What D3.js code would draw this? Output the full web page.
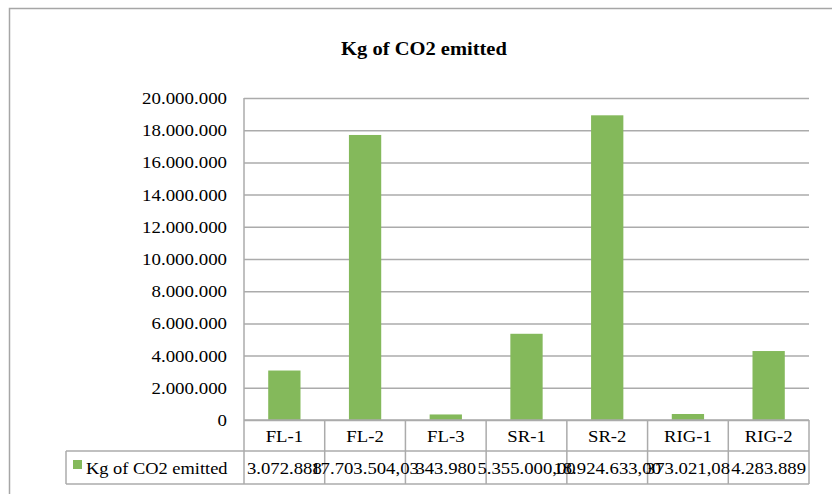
<!DOCTYPE html>
<html><head><meta charset="utf-8">
<script src="https://cdn.jsdelivr.net/npm/d3@7"></script>
<style>
html,body{margin:0;padding:0;background:#fff;}
svg text{font-family:"Liberation Serif","Times New Roman",serif;fill:#000;}
</style></head>
<body><svg id="c" width="832" height="494"></svg>
<script>
const categories = ["FL-1","FL-2","FL-3","SR-1","SR-2","RIG-1","RIG-2"];
const values = [3072888, 17703504.03, 343980, 5355000.00, 18924633.00, 373021.08, 4283889];
const valueLabels = ["3.072.888","17.703.504,03","343.980","5.355.000,00","18.924.633,00","373.021,08","4.283.889"];
const yTicks = [0,2000000,4000000,6000000,8000000,10000000,12000000,14000000,16000000,18000000,20000000];
const tickLabels = ["0","2.000.000","4.000.000","6.000.000","8.000.000","10.000.000","12.000.000","14.000.000","16.000.000","18.000.000","20.000.000"];
const seriesName = "Kg of CO2 emitted";
const title = "Kg of CO2 emitted";

const gridCol = "#ababab", barCol = "#84b95b";
const svg = d3.select("#c");
const L = 244, R = 809, T = 98, B = 420;
const row1B = 451, row2B = 484, legL = 66;

function stretch(sx){
  return sel => sel.each(function(){
    const t = d3.select(this);
    const x = +t.attr("x") || 0, y = +t.attr("y") || 0;
    t.attr("x",0).attr("y",0).attr("transform",`translate(${x},${y}) scale(${sx},1)`);
  });
}

// outer frame
svg.append("path").attr("d","M9.5,494 V8.5 H832").attr("fill","none").attr("stroke","#a6a6a6").attr("stroke-width",1.5);

// title
svg.append("text").attr("x",424).attr("y",55).attr("text-anchor","middle")
  .style("font-size","19px").style("font-weight","bold").text(title).call(stretch(1.08));

const x = d3.scaleBand().domain(categories).range([L,R]).paddingInner(0.6).paddingOuter(0.3);
const y = d3.scaleLinear().domain([0,20000000]).range([B,T]);

// gridlines + tick labels via axis
const ga = svg.append("g").attr("transform",`translate(${L},0)`)
  .call(d3.axisLeft(y).tickValues(yTicks).tickSize(-(R-L)).tickFormat((d,i)=>tickLabels[i]));
ga.select(".domain").remove();
ga.selectAll(".tick line").attr("stroke",gridCol).attr("stroke-width",1.5);
ga.selectAll(".tick text").attr("x",-17).attr("y",5.5).attr("dy",null)
  .style("font-size","16px").attr("text-anchor","end").call(stretch(1.18));

// bars
svg.append("g").selectAll("rect").data(values).join("rect")
  .attr("x",(d,i)=>x(categories[i])).attr("width",x.bandwidth())
  .attr("y",d=>y(d)).attr("height",d=>B-y(d)).attr("fill",barCol);

// left axis line
svg.append("line").attr("x1",L).attr("x2",L).attr("y1",T).attr("y2",row2B).attr("stroke",gridCol).attr("stroke-width",1.5);

// data table
const step = x.step();
const tg = svg.append("g");
tg.append("line").attr("x1",L).attr("x2",R).attr("y1",B).attr("y2",B).attr("stroke",gridCol).attr("stroke-width",1.5);
tg.append("line").attr("x1",legL).attr("x2",R).attr("y1",row1B).attr("y2",row1B).attr("stroke",gridCol).attr("stroke-width",1.5);
tg.append("line").attr("x1",legL).attr("x2",R).attr("y1",row2B).attr("y2",row2B).attr("stroke",gridCol).attr("stroke-width",1.5);
tg.append("line").attr("x1",legL).attr("x2",legL).attr("y1",row1B).attr("y2",row2B).attr("stroke",gridCol).attr("stroke-width",1.5);
categories.forEach((c,i)=>{
  tg.append("line").attr("x1",L+step*(i+1)).attr("x2",L+step*(i+1)).attr("y1",B).attr("y2",row2B).attr("stroke",gridCol).attr("stroke-width",1.5);
});
tg.selectAll("text.cat").data(categories).join("text").attr("class","cat")
  .attr("x",d=>x(d)+x.bandwidth()/2).attr("y",442).attr("text-anchor","middle")
  .style("font-size","16px").text(d=>d).call(stretch(1.17));
tg.selectAll("text.val").data(valueLabels).join("text").attr("class","val")
  .attr("x",(d,i)=>x(categories[i])+x.bandwidth()/2).attr("y",474).attr("text-anchor","middle")
  .style("font-size","16px").text(d=>d).call(stretch(1.17));

// legend key
tg.append("rect").attr("x",73).attr("y",460).attr("width",9).attr("height",9).attr("fill",barCol);
tg.append("text").attr("x",86).attr("y",474).style("font-size","16px").text(seriesName).call(stretch(1.15));
</script></body></html>
